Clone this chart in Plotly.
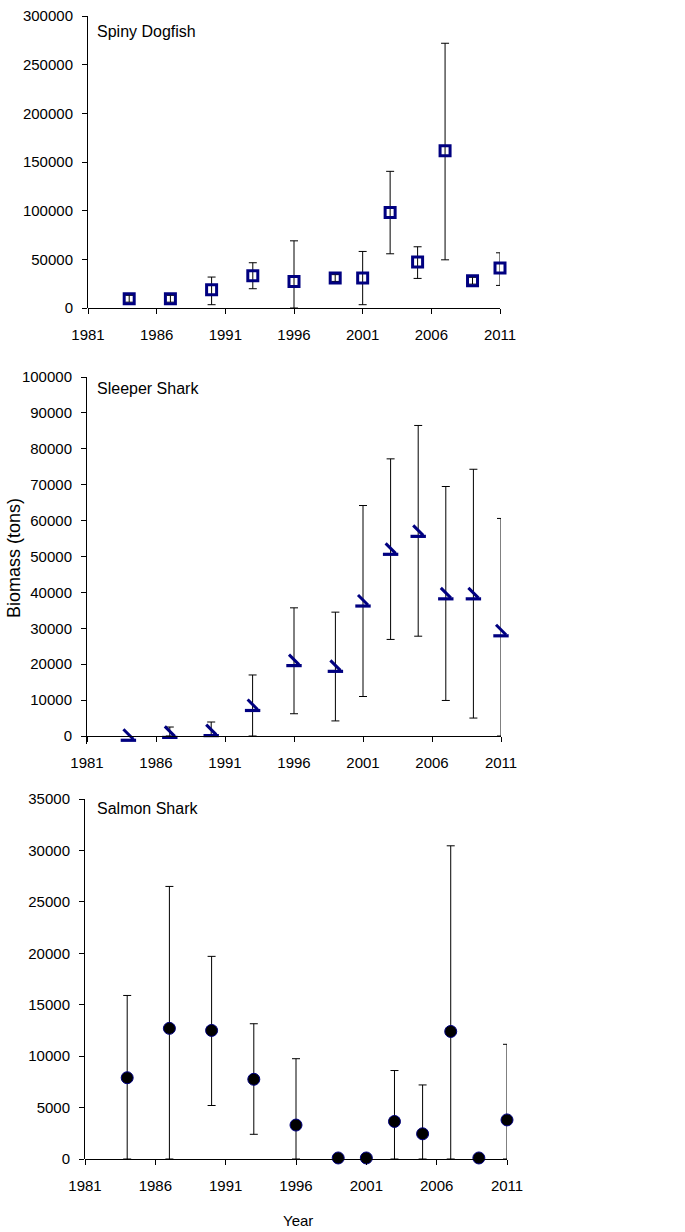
import plotly.graph_objects as go

# Survey years shared by all three species
years = [1984, 1987, 1990, 1993, 1996, 1999, 2001, 2003, 2005, 2007, 2009, 2011]

# Spiny dogfish biomass (tons) with lower / upper confidence bounds
dogfish = [9500, 9500, 18800, 33100, 27300, 30800, 30800, 98000, 47200, 161600, 28000, 41000]
dogfish_lo = [6000, 6000, 3400, 19800, 0, 27300, 3400, 55700, 30400, 49500, 24500, 23200]
dogfish_hi = [13000, 13000, 31800, 46500, 69000, 34300, 58100, 140400, 62900, 272000, 31500, 56700]

# Pacific sleeper shark biomass (tons); None = no interval drawn
sleeper = [200, 1000, 1500, 8500, 21000, 19400, 37600, 52000, 57000, 39600, 39600, 29300]
sleeper_lo = [None, 0, 0, 0, 6200, 4200, 11000, 26900, 27800, 9900, 5000, 0]
sleeper_hi = [None, 2500, 3900, 17000, 35700, 34500, 64200, 77200, 86500, 69500, 74300, 60600]

# Salmon shark biomass (tons)
salmon = [7900, 12700, 12500, 7750, 3300, 100, 100, 3650, 2450, 12400, 100, 3800]
salmon_lo = [0, 0, 5200, 2400, 0, None, None, 0, 0, 0, None, 0]
salmon_hi = [15900, 26500, 19700, 13150, 9750, None, None, 8600, 7200, 30450, None, 11150]

panel_names = ["Spiny Dogfish", "Sleeper Shark", "Salmon Shark"]
y_max = [300000, 100000, 35000]
y_step = [50000, 10000, 5000]
x_range = [1981, 2011]

W, H = 685, 1232
# plot-area boxes in pixels: left, right, top (y_max), bottom (zero line)
boxes = [(88, 500, 16, 308), (87, 501, 377, 736), (85, 507, 799, 1159)]
# extra room below the zero line so glyphs sitting under it are still drawn
below_px = [0, 8, 0]

NAVY = "#000080"
FONT = "Liberation Sans, Arial, sans-serif"


def px(x):
    return x / W


def py(y):
    return 1 - y / H


fig = go.Figure()


def add_errors(idx, vals, lo, hi):
    keep = [i for i in range(len(years)) if lo[i] is not None]
    sfx = "" if idx == 1 else str(idx)
    fig.add_trace(go.Scatter(
        x=[years[i] for i in keep],
        y=[vals[i] for i in keep],
        mode="markers",
        marker=dict(size=1, opacity=0),
        error_y=dict(
            type="data", symmetric=False,
            array=[hi[i] - vals[i] for i in keep],
            arrayminus=[vals[i] - lo[i] for i in keep],
            color="black", thickness=1, width=4,
        ),
        xaxis="x" + sfx, yaxis="y" + sfx,
        cliponaxis=False, showlegend=False, hoverinfo="skip",
    ))


# Spiny dogfish: open navy squares
add_errors(1, dogfish, dogfish_lo, dogfish_hi)
fig.add_trace(go.Scatter(
    x=years, y=dogfish, mode="markers",
    marker=dict(symbol="square-open", size=10, color=NAVY, line=dict(width=3, color=NAVY)),
    xaxis="x", yaxis="y", cliponaxis=False, showlegend=False,
))

# Sleeper shark: bar-and-slash glyph built from two line markers
add_errors(2, sleeper, sleeper_lo, sleeper_hi)
l2, r2, t2, b2 = boxes[1]
units_per_px_y = y_max[1] / (b2 - t2)
fig.add_trace(go.Scatter(
    x=years, y=[v - 5 * units_per_px_y for v in sleeper], mode="markers",
    marker=dict(symbol="line-ew", size=11, color=NAVY, line=dict(width=3.2, color=NAVY)),
    xaxis="x2", yaxis="y2", cliponaxis=False, showlegend=False,
))
fig.add_trace(go.Scatter(
    x=years, y=[v + 1 * units_per_px_y for v in sleeper], mode="markers",
    marker=dict(symbol="line-nw", size=10, color=NAVY, line=dict(width=3, color=NAVY)),
    xaxis="x2", yaxis="y2", cliponaxis=False, showlegend=False,
))

# Salmon shark: filled black circles
add_errors(3, salmon, salmon_lo, salmon_hi)
fig.add_trace(go.Scatter(
    x=years, y=salmon, mode="markers",
    marker=dict(symbol="circle", size=12, color="black", line=dict(width=1, color=NAVY)),
    xaxis="x3", yaxis="y3", cliponaxis=False, showlegend=False,
))

axis_common = dict(
    showline=True, linecolor="black", linewidth=1,
    ticks="outside", ticklen=5, tickcolor="black", tickwidth=1,
    showgrid=False, zeroline=False, automargin=False,
    tickfont=dict(family=FONT, size=15, color="black"),
)

layout = dict(
    width=W, height=H,
    margin=dict(l=0, r=0, t=0, b=0),
    paper_bgcolor="white", plot_bgcolor="white",
    showlegend=False,
)

for k, (l, r, t, b) in enumerate(boxes):
    sfx = "" if k == 0 else str(k + 1)
    upp = y_max[k] / (b - t)
    layout[f"xaxis{sfx}"] = dict(
        axis_common, domain=[px(l), px(r)], range=x_range,
        tick0=1981, dtick=5, anchor="free", position=py(b),
        ticklabelstandoff=8, tickformat="d",
    )
    layout[f"yaxis{sfx}"] = dict(
        axis_common, domain=[py(b + below_px[k]), py(t)],
        range=[-below_px[k] * upp, y_max[k]],
        tick0=0, dtick=y_step[k], anchor=f"x{sfx}", ticklabelstandoff=6,
        tickformat="d",
    )

annotations = []
label_y = [31, 388, 809]
for k, name in enumerate(panel_names):
    annotations.append(dict(
        text=name, xref="paper", yref="paper", x=px(95), y=py(label_y[k]),
        xanchor="left", yanchor="middle", showarrow=False,
        font=dict(family=FONT, size=16, color="black"),
    ))

annotations.append(dict(
    text="Biomass (tons)", xref="paper", yref="paper", x=px(14), y=py(558),
    xanchor="center", yanchor="middle", textangle=-90, showarrow=False,
    font=dict(family=FONT, size=18, color="black"),
))
annotations.append(dict(
    text="Year", xref="paper", yref="paper", x=px(298), y=py(1220),
    xanchor="center", yanchor="middle", showarrow=False,
    font=dict(family=FONT, size=15, color="black"),
))
layout["annotations"] = annotations

fig.update_layout(**layout)
fig.write_html("out.html")
